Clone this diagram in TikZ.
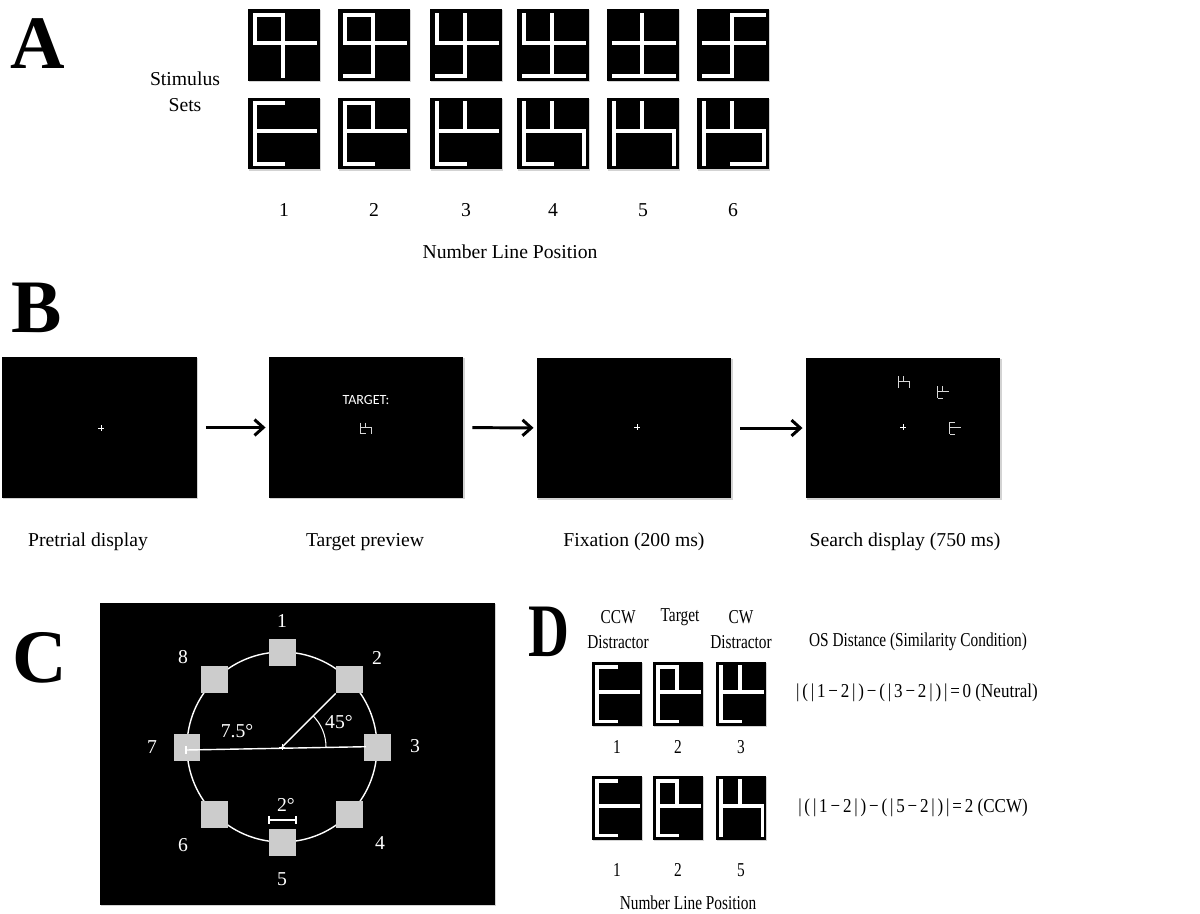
\documentclass[tikz,border=0pt]{standalone}
\usepackage{graphicx}
\usepackage{fontspec}
\setmainfont{Liberation Serif}
\newfontfamily\calibri{Carlito}
\usetikzlibrary{arrows.meta,shadows}
\definecolor{sqgray}{RGB}{204,204,204}
\definecolor{glgray}{RGB}{215,215,215}
\newcommand\narrowtxt[1]{\scalebox{0.78}[1]{#1}}
\newcommand\formtxt[1]{\scalebox{0.865}[1]{#1}}
% glyph grid (fractions of box size, relative to centre)
\def\sxL{-0.4}\def\sxM{-0.02}\def\sxR{0.43}
\def\syT{-0.42}\def\syC{-0.03}\def\syB{0.43}
% stimulus set 1
\def\gAa{\sxL/\syT/\sxM/\syT, \sxL/\syT/\sxL/\syC, \sxL/\syC/\sxR/\syC, \sxM/\syT/\sxM/\syB}
\def\gAb{\sxL/\syT/\sxM/\syT, \sxL/\syT/\sxL/\syC, \sxL/\syC/\sxR/\syC, \sxM/\syT/\sxM/\syB, \sxL/\syB/\sxM/\syB}
\def\gAc{\sxL/\syT/\sxL/\syC, \sxL/\syC/\sxR/\syC, \sxM/\syT/\sxM/\syB, \sxL/\syB/\sxM/\syB}
\def\gAd{\sxL/\syT/\sxL/\syC, \sxL/\syC/\sxR/\syC, \sxM/\syT/\sxM/\syB, \sxL/\syB/\sxR/\syB}
\def\gAe{\sxL/\syC/\sxR/\syC, \sxM/\syT/\sxM/\syB, \sxL/\syB/\sxR/\syB}
\def\gAf{\sxM/\syT/\sxR/\syT, \sxM/\syT/\sxM/\syB, \sxL/\syC/\sxR/\syC, \sxL/\syB/\sxM/\syB}
% stimulus set 2
\def\gBa{\sxL/\syT/\sxL/\syB, \sxL/\syT/\sxM/\syT, \sxL/\syC/\sxR/\syC, \sxL/\syB/\sxM/\syB}
\def\gBb{\sxL/\syT/\sxL/\syB, \sxL/\syT/\sxM/\syT, \sxM/\syT/\sxM/\syC, \sxL/\syC/\sxR/\syC, \sxL/\syB/\sxM/\syB}
\def\gBc{\sxL/\syT/\sxL/\syB, \sxM/\syT/\sxM/\syC, \sxL/\syC/\sxR/\syC, \sxL/\syB/\sxM/\syB}
\def\gBd{\sxL/\syT/\sxL/\syB, \sxM/\syT/\sxM/\syC, \sxL/\syC/\sxR/\syC, \sxR/\syC/\sxR/\syB, \sxL/\syB/\sxM/\syB}
\def\gBe{\sxL/\syT/\sxL/\syB, \sxM/\syT/\sxM/\syC, \sxL/\syC/\sxR/\syC, \sxR/\syC/\sxR/\syB}
\def\gBf{\sxL/\syT/\sxL/\syB, \sxM/\syT/\sxM/\syC, \sxL/\syC/\sxR/\syC, \sxR/\syC/\sxR/\syB, \sxM/\syB/\sxR/\syB}
% #1 cx, #2 cy, #3 w, #4 h, #5 list, #6 style
\newcommand\stimglyph[6]{%
  \edef\myglyphlist{#5}%
  \foreach \xa/\ya/\xb/\yb in \myglyphlist {%
    \draw[#6] ({#1+(\xa)*#3},{#2+(\ya)*#4}) -- ({#1+(\xb)*#3},{#2+(\yb)*#4});}}
\newcommand\fixcross[2]{%
  \draw[white,line width=0.4pt] (#1-3,#2) -- (#1+3,#2) (#1,#2-3) -- (#1,#2+3);}
\begin{document}
\begin{tikzpicture}[x=0.02cm,y=-0.02cm,
  panel/.style={font=\fontsize{43}{43}\selectfont\bfseries, inner sep=0},
  lbl/.style={font=\fontsize{11.2}{14.5}\selectfont, inner sep=0, align=center},
  wlbl/.style={lbl, text=white},
  shad/.style={drop shadow={shadow xshift=0.6pt, shadow yshift=-0.8pt, opacity=0.35}},
  stimA/.style={fill=black, minimum width=1.44cm, minimum height=1.44cm, inner sep=0, outer sep=0, shad},
  stimD/.style={fill=black, minimum width=1.0cm, minimum height=1.28cm, inner sep=0, outer sep=0, shad},
  screen/.style={fill=black, minimum width=3.9cm, minimum height=2.82cm, inner sep=0, outer sep=0, shad},
  glA/.style={white, line width=2.3pt, line cap=rect},
  glD/.style={white, line width=2pt, line cap=rect},
  gls/.style={glgray, line width=0.5pt},
  flow/.style={line width=1.7pt, -{Straight Barb[length=5pt,width=9pt]}, shorten <=0.18cm, shorten >=0.06cm},
  wline/.style={white, line width=0.8pt},
  csq/.style={fill=sqgray, minimum size=0.54cm, inner sep=0, outer sep=0}]
\useasboundingbox (0,0) rectangle (1200,913);

% ---------------- Panel A ----------------
\node[panel] (lA) at (38,44) {A};
\node[lbl] (stimsets) at (185,92) {Stimulus\\Sets};
\foreach \i/\cx/\ga/\gb in {1/284/\gAa/\gBa, 2/374/\gAb/\gBb, 3/466/\gAc/\gBc, 4/553/\gAd/\gBd, 5/643/\gAe/\gBe, 6/733/\gAf/\gBf} {
  \node[stimA] (a\i) at (\cx,45) {};
  \stimglyph{\cx}{45}{72}{72}{\ga}{glA}
  \node[stimA] (b\i) at (\cx,133.5) {};
  \stimglyph{\cx}{133.5}{72}{72}{\gb}{glA}
  \node[lbl] (n\i) at (\cx,210) {\i};
}
\node[lbl] (nlpA) at (510,252) {Number Line Position};

% ---------------- Panel B ----------------
\node[panel] (lB) at (37,308) {B};
\node[screen] (s1) at (99.5,427.5) {};
\node[screen] (s2) at (366,427.5) {};
\node[screen] (s3) at (634,428) {};
\node[screen] (s4) at (903,428) {};
\draw[flow] (s1) -- (s2);
\draw[flow] (s2) -- (s3);
\draw[flow] (s3) -- (s4);
\fixcross{101}{428}
\node[inner sep=0, text=white, font=\calibri\fontsize{8}{9}\selectfont] (tgt) at (366,400) {TARGET:};
\stimglyph{366}{428}{13}{13}{\gBd}{gls}
\fixcross{637}{427}
\fixcross{903}{427}
\stimglyph{904}{382}{13}{14}{\gBe}{gls}
\stimglyph{943}{392}{13}{14}{\gBc}{gls}
\stimglyph{955}{428}{13}{14}{\gBa}{gls}
\node[lbl] (c1) at (88,542) {Pretrial display};
\node[lbl] (c2) at (365,542) {Target preview};
\node[lbl] (c3) at (634,542) {Fixation (200 ms)};
\node[lbl] (c4) at (905,542) {Search display (750 ms)};

% ---------------- Panel C ----------------
\node[panel] (lC) at (40,658) {C};
\node[fill=black, minimum width=7.9cm, minimum height=6.04cm, inner sep=0, shad] (cbox) at (297.5,754) {};
\coordinate (cc) at (282,747);
\draw[white, line width=0.8pt] (cc) circle[radius=95];
\foreach \i/\a in {1/90, 2/45, 3/0, 4/-45, 5/-90, 6/-135, 7/180, 8/135} {
  \node[csq] (p\i) at ({282+95*cos(\a)},{747-95*sin(\a)}) {};
}
\node[wlbl] (q1) at (282,621) {1};
\node[wlbl] (q2) at (377,658) {2};
\node[wlbl] (q3) at (415,746) {3};
\node[wlbl] (q4) at (380,843) {4};
\node[wlbl] (q5) at (282,879) {5};
\node[wlbl] (q6) at (183,845) {6};
\node[wlbl] (q7) at (152,747) {7};
\node[wlbl] (q8) at (183,657) {8};
\coordinate (t7) at (186,750);
\coordinate (t3) at (366,746.7);
\draw[wline] (t7) -- (t3);
\draw[white, line width=0.6pt] (186,746) -- (186,754);
\draw[wline] (cc) -- (p2.south west);
\draw[white, line width=0.6pt] (326,747) arc[start angle=0, end angle=-45, radius=44];
\fixcross{282}{747}
\node[wlbl] (d45) at (339,722) {45°};
\node[wlbl] (d75) at (237,731) {7.5°};
\node[wlbl] (d2) at (286,805) {2°};
\coordinate (br1) at (269,820);
\coordinate (br2) at (296,820);
\draw[white, line width=0.6pt] (br1) -- (br2) (269,816) -- (269,824) (296,816) -- (296,824);

% ---------------- Panel D ----------------
\node[panel] (lD) at (549,632) {\scalebox{0.75}[1]{D}};
\node[lbl] (hccw) at (618,629.5) {\narrowtxt{CCW}\\\narrowtxt{Distractor}};
\node[lbl] (htgt) at (680,617) {\narrowtxt{Target}};
\node[lbl] (hcw) at (741,629.5) {\narrowtxt{CW}\\\narrowtxt{Distractor}};
\node[lbl] (hos) at (918,642) {\narrowtxt{OS Distance (Similarity Condition)}};
\foreach \i/\cx/\g/\num in {1/617/\gBa/1, 2/678/\gBb/2, 3/741/\gBc/3} {
  \node[stimD] (d\i) at (\cx,694) {};
  \stimglyph{\cx}{694}{50}{64}{\g}{glD}
  \node[lbl] (dn\i) at (\cx,747) {\narrowtxt{\num}};
}
\foreach \i/\cx/\g/\num in {1/617/\gBa/1, 2/678/\gBb/2, 3/741/\gBe/5} {
  \node[stimD] (e\i) at (\cx,808) {};
  \stimglyph{\cx}{808}{50}{64}{\g}{glD}
  \node[lbl] (en\i) at (\cx,870) {\narrowtxt{\num}};
}
\node[lbl] (f1) at (917,693) {\formtxt{|\,(\,|\,1\,−\,2\,|\,)\,−\,(\,|\,3\,−\,2\,|\,)\,|\,=\,0 (Neutral)}};
\node[lbl] (f2) at (913,808) {\formtxt{|\,(\,|\,1\,−\,2\,|\,)\,−\,(\,|\,5\,−\,2\,|\,)\,|\,=\,2 (CCW)}};
\node[lbl] (nlpD) at (688,903) {\narrowtxt{Number Line Position}};
\end{tikzpicture}
\end{document}
